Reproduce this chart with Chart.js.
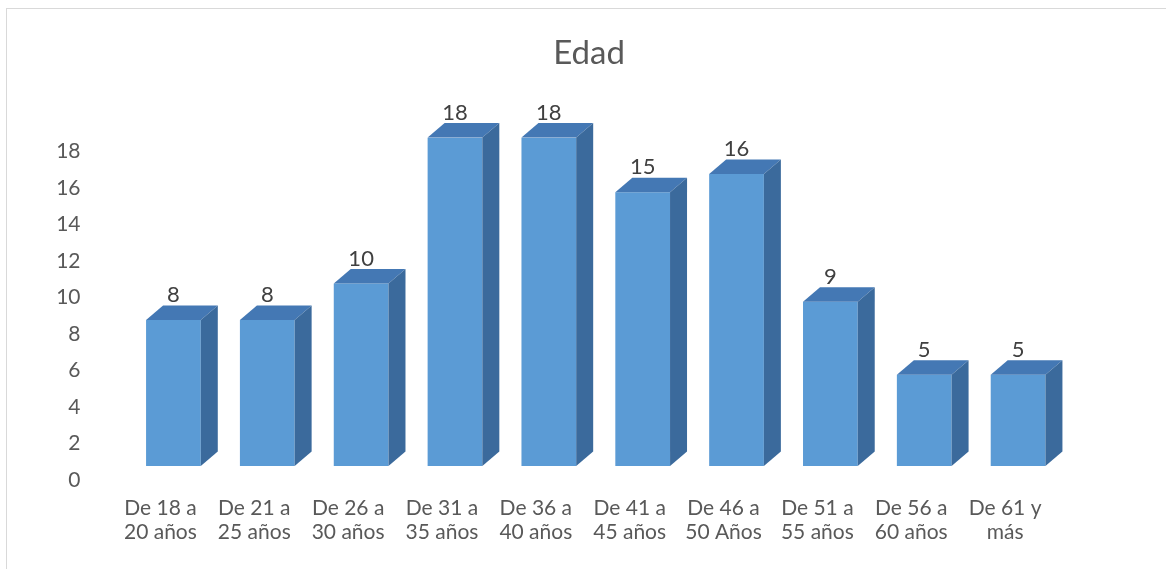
<!DOCTYPE html>
<html lang="es">
<head>
    <meta charset="UTF-8">
    <title>Edad</title>
    <script src="https://cdn.jsdelivr.net/npm/chart.js"></script>
    <style>
        body {
            margin: 0;
            background: #ffffff;
            overflow: hidden;
        }
        .frame {
            position: absolute;
            left: 6px;
            top: 8px;
            width: 1200px;
            height: 600px;
            border: 1px solid #d9d9d9;
        }
        #chart {
            position: absolute;
            left: 0;
            top: 0;
        }
    </style>
</head>
<body>
    <div class="frame"></div>
    <canvas id="chart" width="1166" height="569"></canvas>

    <script>
        // Data
        const categories = [
            ['De 18 a', '20 años'],
            ['De 21 a', '25 años'],
            ['De 26 a', '30 años'],
            ['De 31 a', '35 años'],
            ['De 36 a', '40 años'],
            ['De 41 a', '45 años'],
            ['De 46 a', '50 Años'],
            ['De 51 a', '55 años'],
            ['De 56 a', '60 años'],
            ['De 61 y', 'más']
        ];
        const values = [8, 8, 10, 18, 18, 15, 16, 9, 5, 5];
        const yTicks = [0, 2, 4, 6, 8, 10, 12, 14, 16, 18];
        const title = 'Edad';

        const FONT = 'Lato, "Open Sans", sans-serif';
        const DX = 17, DY = 14.5;   // depth of the 3D faces

        // title centred on the whole chart box, like the original
        const titleBox = {
            id: 'titleBox',
            afterDraw(chart) {
                const ctx = chart.ctx;
                ctx.save();
                ctx.fillStyle = '#595959';
                ctx.font = '33px ' + FONT;
                ctx.textAlign = 'center';
                ctx.textBaseline = 'alphabetic';
                ctx.fillText(title, 589, 64);
                ctx.restore();
            }
        };

        // top and side faces + value labels, drawn from the bar elements
        const bars3d = {
            id: 'bars3d',
            afterDatasetsDraw(chart) {
                const ctx = chart.ctx;
                const meta = chart.getDatasetMeta(0);
                ctx.save();
                meta.data.forEach((bar, i) => {
                    const p = bar.getProps(['x', 'y', 'base', 'width'], true);
                    const l = p.x - p.width / 2, r = p.x + p.width / 2;
                    // top
                    ctx.fillStyle = '#4478b4';
                    ctx.beginPath();
                    ctx.moveTo(l, p.y);
                    ctx.lineTo(l + DX, p.y - DY);
                    ctx.lineTo(r + DX, p.y - DY);
                    ctx.lineTo(r, p.y);
                    ctx.closePath();
                    ctx.fill();
                    // side
                    ctx.fillStyle = '#3b6a9c';
                    ctx.beginPath();
                    ctx.moveTo(r, p.y);
                    ctx.lineTo(r + DX, p.y - DY);
                    ctx.lineTo(r + DX, p.base - DY);
                    ctx.lineTo(r, p.base);
                    ctx.closePath();
                    ctx.fill();
                    // value
                    ctx.fillStyle = '#404040';
                    ctx.font = '22px ' + FONT;
                    ctx.textAlign = 'center';
                    ctx.textBaseline = 'alphabetic';
                    ctx.fillText(values[i], p.x, p.y - 18);
                });
                ctx.restore();
            }
        };

        new Chart(document.getElementById('chart'), {
            type: 'bar',
            data: {
                labels: categories,
                datasets: [{
                    data: values,
                    backgroundColor: '#5b9bd5',
                    barPercentage: 0.583,
                    categoryPercentage: 1
                }]
            },
            options: {
                responsive: false,
                animation: false,
                layout: { padding: { left: 0, right: 101, top: 137.5, bottom: 0 } },
                plugins: {
                    legend: { display: false },
                    tooltip: { enabled: false },
                    title: { display: false }
                },
                scales: {
                    x: {
                        grid: { display: false },
                        border: { display: false },
                        ticks: {
                            color: '#595959',
                            font: { family: FONT, size: 21, lineHeight: 1.15 },
                            padding: 22,
                            labelOffset: -13,
                            maxRotation: 0,
                            autoSkip: false
                        },
                        afterFit(scale) { scale.height = 103; }
                    },
                    y: {
                        min: 0,
                        max: 18,
                        grid: { display: false },
                        border: { display: false },
                        afterBuildTicks(scale) {
                            scale.ticks = yTicks.map(v => ({ value: v }));
                        },
                        ticks: {
                            color: '#595959',
                            font: { family: FONT, size: 21 },
                            padding: 38,
                            labelOffset: 14
                        },
                        afterFit(scale) { scale.width = 126.5; }
                    }
                }
            },
            plugins: [bars3d, titleBox]
        });
    </script>
</body>
</html>
